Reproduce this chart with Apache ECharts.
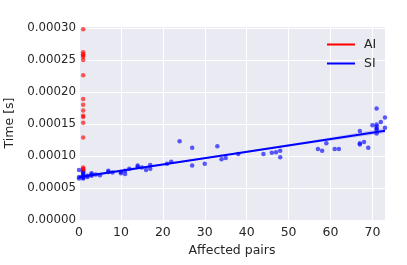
<!DOCTYPE html>
<html><head><meta charset="utf-8">
<script src="https://cdn.jsdelivr.net/npm/echarts@6/dist/echarts.min.js"></script>
<style>html,body{margin:0;padding:0;background:#fff}#c{width:407px;height:265px}</style>
</head><body><div id="c"></div>
<script>
// AI (red) scatter: affected pairs, time [s]
const aiX = [1,1,1,1,1,1,1,1,1,1,1,1,1,1,1,1,1];
const aiY = [0.000298,0.000262,0.000259,0.000257,0.000255,0.000250,0.000226,0.000189,0.000180,0.000171,0.000163,0.000161,0.000152,0.000129,0.000082,0.000080,0.000079];
// SI (blue) scatter
const siX = [0,0,0,1,1,1,1,1,1,1,1,2,2,3,3,3,4,5,7,7,8,10,10,11,11,12,14,14,15,16,17,17,21,22,24,27,27,30,33,34,35,38,44,46,47,48,48,57,58,59,61,62,67,67,67,68,69,70,71,71,71,71,71,71,72,73,73];
const siY = [0.000078,0.000067,0.000065,0.000065,0.000066,0.000068,0.000070,0.000072,0.000074,0.000076,0.000078,0.000067,0.000069,0.000069,0.000071,0.000073,0.000071,0.000070,0.000075,0.000077,0.000074,0.000073,0.000075,0.000072,0.000077,0.000080,0.000083,0.000085,0.000082,0.000078,0.000080,0.000086,0.000088,0.000091,0.000123,0.000085,0.000113,0.000088,0.000115,0.000095,0.000097,0.000103,0.000103,0.000105,0.000106,0.000108,0.000098,0.000111,0.000108,0.000120,0.000111,0.000111,0.000139,0.000120,0.000118,0.000122,0.000113,0.000148,0.000174,0.000149,0.000146,0.000143,0.000141,0.000135,0.000153,0.000160,0.000144];
// SI fitted line and confidence band
const siFitX = [0, 20, 37, 55, 73];
const siFitY = [0.0000670, 0.0000868, 0.0001036, 0.0001215, 0.0001395];
const siBandLo = [0.0000645, 0.0000853, 0.0001022, 0.0001195, 0.0001355];
const siBandHi = [0.0000695, 0.0000883, 0.0001050, 0.0001235, 0.0001435];
const xTicks = [0,10,20,30,40,50,60,70];
const yTicks = [0,0.00005,0.0001,0.00015,0.0002,0.00025,0.0003];

const txt = '#262626';
const font = 'DejaVu Sans';
const chart = echarts.init(document.getElementById('c'), null, {renderer:'canvas'});
const pair = (xs, ys) => xs.map((x,i)=>[x, ys[i]]);
chart.setOption({
  animation:false,
  textStyle:{fontFamily:font},
  grid:{left:79, right:22, top:26, bottom:45, show:true, backgroundColor:'#EAEAF2', borderWidth:0,
        containLabel:false, outerBoundsMode:'none'},
  legend:{
    orient:'vertical', left:322, top:33, itemWidth:28, itemHeight:12, itemGap:6,
    textStyle:{fontFamily:font, fontSize:12.5, color:txt, padding:[0,0,0,4]},
    data:[{name:'AI', icon:'path://M0,0 L28,0 L28,2 L0,2 Z', itemStyle:{color:'#ff0000'}},
          {name:'SI', icon:'path://M0,0 L28,0 L28,2 L0,2 Z', itemStyle:{color:'#0000ff'}}]
  },
  xAxis:{
    type:'value', min:0, max:73, interval:10,
    name:'Affected pairs', nameLocation:'middle', nameGap:21,
    nameTextStyle:{fontFamily:font, fontSize:12.5, color:txt},
    axisLine:{show:false}, axisTick:{show:false},
    axisLabel:{fontFamily:font, fontSize:12.5, color:txt, margin:6, showMaxLabel:false,
      formatter:v=> xTicks.includes(v) ? String(v) : ''},
    splitLine:{lineStyle:{color:'#ffffff', width:1}}
  },
  yAxis:{
    type:'value', min:0, max:0.000303, interval:0.00005,
    name:'Time [s]', nameLocation:'middle', nameGap:50, nameRotate:90,
    nameTextStyle:{fontFamily:font, fontSize:12.5, color:txt},
    axisLine:{show:false}, axisTick:{show:false},
    axisLabel:{fontFamily:font, fontSize:11.8, color:txt, margin:3, showMaxLabel:false,
      formatter:v=> yTicks.some(t=>Math.abs(t-v)<1e-9) ? v.toFixed(5) : ''},
    splitLine:{lineStyle:{color:'#ffffff', width:1}}
  },
  series:[
    {name:'band', type:'custom', silent:true, data:[0],
      renderItem:(params, api)=>{
        const pts = [];
        siFitX.forEach((x,i)=>pts.push(api.coord([x, siBandHi[i]])));
        for(let i=siFitX.length-1;i>=0;i--) pts.push(api.coord([siFitX[i], siBandLo[i]]));
        return {type:'polygon', shape:{points:pts}, style:{fill:'rgba(0,0,255,0.15)'}};
      }},
    {name:'SIpts', type:'scatter', data:pair(siX, siY), symbolSize:4.5, itemStyle:{color:'rgba(0,0,255,0.8)'}},
    {name:'AIpts', type:'scatter', data:pair(aiX, aiY), symbolSize:4.5, itemStyle:{color:'rgba(255,0,0,0.8)'}},
    {name:'SI', type:'line', data:pair(siFitX, siFitY), symbol:'none', lineStyle:{color:'#0000ff', width:2}, z:5},
    {name:'AI', type:'line', data:[], symbol:'none', lineStyle:{color:'#ff0000', width:2}}
  ]
});
</script></body></html>
